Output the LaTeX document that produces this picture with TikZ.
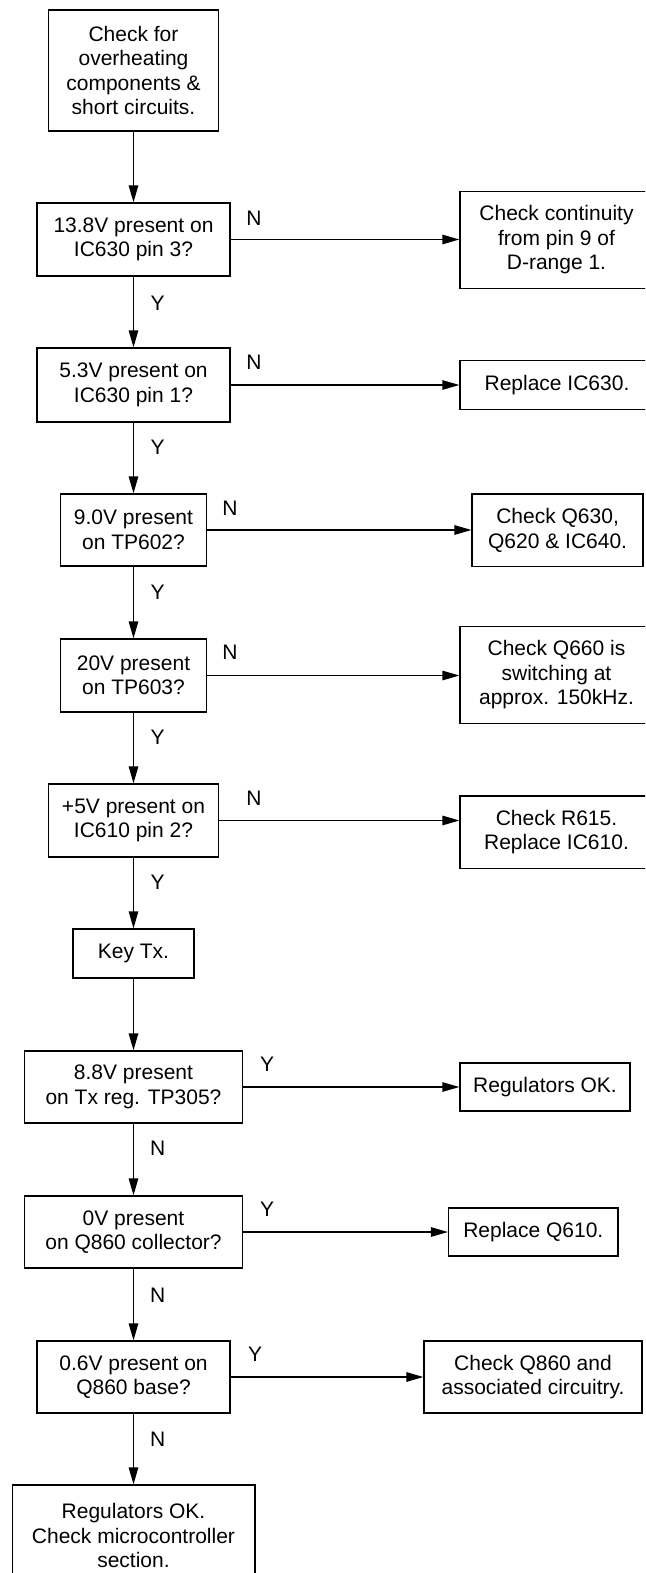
\documentclass[tikz,border=0pt]{standalone}
\usepackage{fontspec}
\setmainfont{Liberation Sans}
\usetikzlibrary{arrows.meta}
\tikzset{
  box/.style={draw, line width=1.3pt, inner sep=0pt, align=center,
    font=\fontsize{21}{24.5}\selectfont},
  lbl/.style={inner sep=0pt, font=\fontsize{21}{24.5}\selectfont},
  conn/.style={line width=1.3pt, -{Triangle[length=17pt,width=9.5pt]}},
}
\begin{document}
\begin{tikzpicture}[x=1pt,y=-1pt]
\useasboundingbox (0,0) rectangle (645,1573);
\clip (0,0) rectangle (645,1573);
% main column
\node[box, minimum width=169.5pt, minimum height=121pt] (b1) at (133.5,70.5) {Check for\\overheating\\components \&\\short circuits.};
\node[box, minimum width=193pt, minimum height=73pt] (b2) at (133.5,239.5) {13.8V present on\\IC630 pin 3?};
\node[box, minimum width=193pt, minimum height=74pt] (b3) at (133.5,385) {5.3V present on\\IC630 pin 1?};
\node[box, minimum width=145.6pt, minimum height=72pt] (b4) at (133.5,530) {9.0V present\\on TP602?};
\node[box, minimum width=145.6pt, minimum height=73pt] (b5) at (133.5,675.5) {20V present\\on TP603?};
\node[box, minimum width=169.5pt, minimum height=73pt] (b6) at (133.5,820.5) {+5V present on\\IC610 pin 2?};
\node[box, minimum width=121pt, minimum height=49pt] (key) at (133.5,953.5) {Key Tx.};
\node[box, minimum width=218.3pt, minimum height=72pt] (b7) at (133.5,1087) {8.8V present\\on Tx reg. TP305?};
\node[box, minimum width=218.3pt, minimum height=72pt] (b8) at (133.5,1232) {0V present\\on Q860 collector?};
\node[box, minimum width=193pt, minimum height=72pt] (b9) at (133.5,1377) {0.6V present on\\Q860 base?};
\node[box, minimum width=242.7pt, minimum height=101pt] (b10) at (133.5,1535.5) {Regulators OK.\\Check microcontroller\\section.};
% right column
\node[box, minimum width=193pt, minimum height=96.5pt] (r1) at (556.5,240) {Check continuity\\from pin 9 of\\D-range 1.};
\node[box, minimum width=194pt, minimum height=48.5pt] (r2) at (557,385) {Replace IC630.};
\node[box, minimum width=171pt, minimum height=72.5pt] (r3) at (557.6,530.3) {Check Q630,\\Q620 \& IC640.};
\node[box, minimum width=193pt, minimum height=96.5pt] (r4) at (556.5,675) {Check Q660 is\\switching at\\approx. 150kHz.};
\node[box, minimum width=193pt, minimum height=72.5pt] (r5) at (556.5,832.2) {Check R615.\\Replace IC610.};
\node[box, minimum width=170pt, minimum height=48pt] (r6) at (545,1087) {Regulators OK.};
\node[box, minimum width=169.4pt, minimum height=48pt] (r7) at (533.3,1232) {Replace Q610.};
\node[box, minimum width=218pt, minimum height=72pt] (r8) at (533,1377) {Check Q860 and\\associated circuitry.};
% vertical connectors
\draw[conn] (b1.south) -- (b2.north);
\draw[conn] (b2.south) -- (b3.north);
\draw[conn] (b3.south) -- (b4.north);
\draw[conn] (b4.south) -- (b5.north);
\draw[conn] (b5.south) -- (b6.north);
\draw[conn] (b6.south) -- (key.north);
\draw[conn] (key.south) -- (b7.north);
\draw[conn] (b7.south) -- (b8.north);
\draw[conn] (b8.south) -- (b9.north);
\draw[conn] (b9.south) -- (b10.north);
% horizontal connectors
\draw[conn] (b2.east) -- (b2.east -| r1.west);
\draw[conn] (b3.east) -- (b3.east -| r2.west);
\draw[conn] (b4.east) -- (b4.east -| r3.west);
\draw[conn] (b5.east) -- (b5.east -| r4.west);
\draw[conn] (b6.east) -- (b6.east -| r5.west);
\draw[conn] (b7.east) -- (b7.east -| r6.west);
\draw[conn] (b8.east) -- (b8.east -| r7.west);
\draw[conn] (b9.east) -- (b9.east -| r8.west);
% labels vertical
\node[lbl] (l1) at (157.6,303) {Y};
\node[lbl] (l2) at (157.6,447) {Y};
\node[lbl] (l3) at (157.6,592) {Y};
\node[lbl] (l4) at (157.6,737) {Y};
\node[lbl] (l5) at (157.6,882) {Y};
\node[lbl] (l6) at (157.6,1148) {N};
\node[lbl] (l7) at (157.6,1295) {N};
\node[lbl] (l8) at (157.6,1439) {N};
% labels horizontal
\node[lbl] (h1) at (254,218) {N};
\node[lbl] (h2) at (254,362) {N};
\node[lbl] (h3) at (230,508) {N};
\node[lbl] (h4) at (230,652) {N};
\node[lbl] (h5) at (254,798) {N};
\node[lbl] (h6) at (267,1064) {Y};
\node[lbl] (h7) at (267,1209) {Y};
\node[lbl] (h8) at (255,1354) {Y};
\end{tikzpicture}
\end{document}
